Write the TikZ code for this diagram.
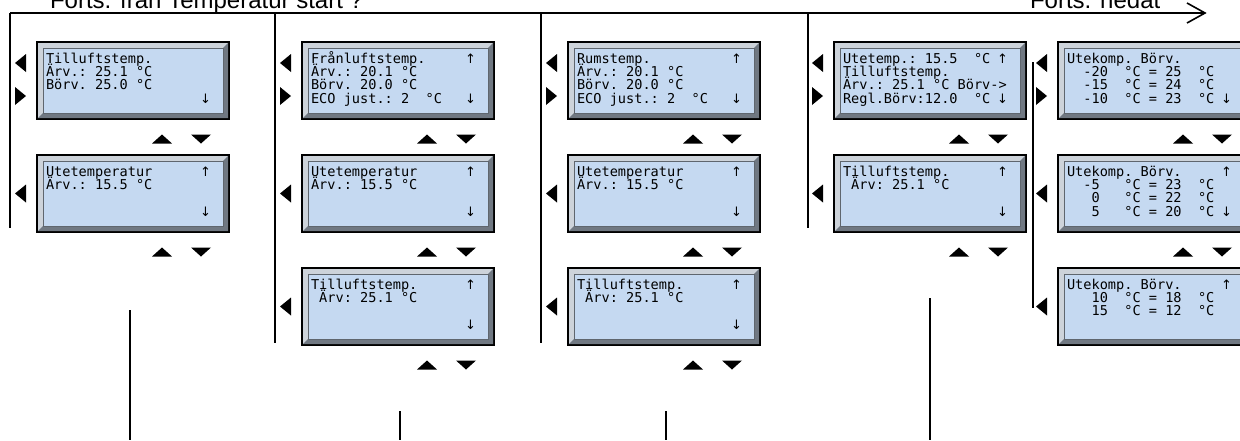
\documentclass[tikz,border=0pt]{standalone}
\usepackage{fontspec}
\setmainfont{Liberation Sans}
\newfontfamily\lcdfont{DejaVu Sans Mono}
\newfontfamily\arrfont{DejaVu Sans}
\usetikzlibrary{calc}
\definecolor{lcdblue}{RGB}{197,217,241}
\definecolor{framegray}{RGB}{156,165,175}
\definecolor{framelight}{RGB}{205,211,218}
\definecolor{framedark}{RGB}{112,120,130}
\definecolor{lcdedge}{RGB}{95,102,110}
\tikzset{
 lcdframe/.style={draw=black,line width=2pt,fill=framegray,minimum width=192pt,minimum height=77pt,anchor=north west,inner sep=0pt,outer sep=0pt},
 lcdtext/.style={anchor=base west,inner sep=0pt,outer sep=0pt,font=\lcdfont\fontsize{13.6pt}{14pt}\selectfont},
 wire/.style={line width=2pt,draw=black},
 topwire/.style={line width=1.6pt,draw=black},
 navtri/.style={fill=black},
 toptext/.style={anchor=base west,inner sep=0pt,outer sep=0pt,font=\fontsize{24pt}{28pt}\selectfont},
}
\newcommand\UA{\makebox[8.19pt]{\arrfont\fontsize{13pt}{14pt}\selectfont ↑}}
\newcommand\DA{\makebox[8.19pt]{\arrfont\fontsize{13pt}{14pt}\selectfont ↓}}
\newcommand\lcdbox[7]{%
 \node[lcdframe] (#1) at (#2,-#3) {};
 \fill[framelight,shift={(#1.north west)}] (1,-1) -- (191,-1) -- (186,-6) -- (6,-6) -- (6,-71) -- (1,-76) -- cycle;
 \fill[framedark,shift={(#1.north west)}] (191,-76) -- (1,-76) -- (6,-71) -- (186,-71) -- (186,-6) -- (191,-1) -- cycle;
 \filldraw[fill=lcdblue,draw=lcdedge,line width=0.8pt,shift={(#1.north west)}] (6,-6) rectangle (186,-71);
 \node[lcdtext] (#1-r1) at ($(#1.north west)+(9,-21)$) {#4};
 \node[lcdtext] (#1-r2) at ($(#1.north west)+(9,-34)$) {#5};
 \node[lcdtext] (#1-r3) at ($(#1.north west)+(9,-47)$) {#6};
 \node[lcdtext] (#1-r4) at ($(#1.north west)+(9,-61)$) {#7};
}
\newcommand\triL[2]{\fill[navtri,shift={(#1.north west)}] (-22,-#2) -- (-11,-#2+9) -- (-11,-#2-9) -- cycle;}
\newcommand\triR[2]{\fill[navtri,shift={(#1.north west)}] (-11,-#2) -- (-22,-#2+9) -- (-22,-#2-9) -- cycle;}
\newcommand\updown[1]{%
 \fill[navtri,shift={(#1.south east)}] (-77,-24.5) -- (-57,-24.5) -- (-67,-15.5) -- cycle;
 \fill[navtri,shift={(#1.south east)}] (-38,-15.5) -- (-18,-15.5) -- (-28,-24.5) -- cycle;}
\begin{document}
\begin{tikzpicture}[x=1pt,y=1pt]
\useasboundingbox (0,0) rectangle (1240,-440);
\clip (0,0) rectangle (1240,-440);

% header texts (cut at the top edge, as in the reference)
\node[toptext] (lt) at (50,-8) {Forts. från Temperatur start ?};
\node[toptext] (rt) at (1030,-8) {Forts. nedåt};

% top line with open arrow head
\coordinate (tl) at (10,-13);
\coordinate (tip) at (1205,-13);
\coordinate (barbU) at (1187,-3);
\coordinate (barbD) at (1187,-23);
\draw[topwire] (tl) -- (tip);
\draw[topwire,line join=miter] (barbU) -- (tip) -- (barbD);

% column lines
\coordinate (t1) at (10,-13);  \coordinate (v1) at (10,-228);
\coordinate (t2) at (275,-13); \coordinate (v2) at (275,-343);
\coordinate (t3) at (541,-13); \coordinate (v3) at (541,-343);
\coordinate (t4) at (808,-13); \coordinate (v4) at (808,-228);
\coordinate (t5) at (1033,-62); \coordinate (v5) at (1033,-308);
\draw[wire] (t1) -- (v1);
\draw[wire] (t2) -- (v2);
\draw[wire] (t3) -- (v3);
\draw[wire] (t4) -- (v4);
\draw[wire] (t5) -- (v5);

% bottom lines
\coordinate (b1t) at (130,-310); \coordinate (b1b) at (130,-440);
\coordinate (b2t) at (400,-411); \coordinate (b2b) at (400,-440);
\coordinate (b3t) at (666,-411); \coordinate (b3b) at (666,-440);
\coordinate (b4t) at (930,-298); \coordinate (b4b) at (930,-440);
\draw[wire] (b1t) -- (b1b);
\draw[wire] (b2t) -- (b2b);
\draw[wire] (b3t) -- (b3b);
\draw[wire] (b4t) -- (b4b);

% column 1
\lcdbox{a1}{37}{42}{Tilluftstemp.}{Ärv.:~25.1~°C}{Börv.~25.0~°C}{~~~~~~~~~~~~~~~~~~~\DA}
\lcdbox{a2}{37}{155}{Utetemperatur~~~~~~\UA}{Ärv.:~15.5~°C}{}{~~~~~~~~~~~~~~~~~~~\DA}
\triL{a1}{21}\triR{a1}{54}\triL{a2}{38.5}
\updown{a1}\updown{a2}

% column 2
\lcdbox{b1}{302}{42}{Frånluftstemp.~~~~~\UA}{Ärv.:~20.1~°C}{Börv.~20.0~°C}{ECO~just.:~2~~°C~~~\DA}
\lcdbox{b2}{302}{155}{Utetemperatur~~~~~~\UA}{Ärv.:~15.5~°C}{}{~~~~~~~~~~~~~~~~~~~\DA}
\lcdbox{b3}{302}{268}{Tilluftstemp.~~~~~~\UA}{~Ärv:~25.1~°C}{}{~~~~~~~~~~~~~~~~~~~\DA}
\triL{b1}{21}\triR{b1}{54}\triL{b2}{38.5}\triL{b3}{38.5}
\updown{b1}\updown{b2}\updown{b3}

% column 3
\lcdbox{c1}{568}{42}{Rumstemp.~~~~~~~~~~\UA}{Ärv.:~20.1~°C}{Börv.~20.0~°C}{ECO~just.:~2~~°C~~~\DA}
\lcdbox{c2}{568}{155}{Utetemperatur~~~~~~\UA}{Ärv.:~15.5~°C}{}{~~~~~~~~~~~~~~~~~~~\DA}
\lcdbox{c3}{568}{268}{Tilluftstemp.~~~~~~\UA}{~Ärv:~25.1~°C}{}{~~~~~~~~~~~~~~~~~~~\DA}
\triL{c1}{21}\triR{c1}{54}\triL{c2}{38.5}\triL{c3}{38.5}
\updown{c1}\updown{c2}\updown{c3}

% column 4
\lcdbox{d1}{834}{42}{Utetemp.:~15.5~~°C~\UA}{Tilluftstemp.}{Ärv.:~25.1~°C~Börv->}{Regl.Börv:12.0~~°C~\DA}
\lcdbox{d2}{834}{155}{Tilluftstemp.~~~~~~\UA}{~Ärv:~25.1~°C}{}{~~~~~~~~~~~~~~~~~~~\DA}
\triL{d1}{21}\triR{d1}{54}\triL{d2}{38.5}
\updown{d1}\updown{d2}

% column 5
\lcdbox{e1}{1058}{42}{Utekomp.~Börv.}{~~-20~~°C~=~25~~°C}{~~-15~~°C~=~24~~°C}{~~-10~~°C~=~23~~°C~\DA}
\lcdbox{e2}{1058}{155}{Utekomp.~Börv.~~~~~\UA}{~~-5~~~°C~=~23~~°C}{~~~0~~~°C~=~22~~°C}{~~~5~~~°C~=~20~~°C~\DA}
\lcdbox{e3}{1058}{268}{Utekomp.~Börv.~~~~~\UA}{~~~10~~°C~=~18~~°C}{~~~15~~°C~=~12~~°C}{}
\triL{e1}{21}\triR{e1}{54}\triL{e2}{38.5}\triL{e3}{38.5}
\updown{e1}\updown{e2}
\end{tikzpicture}
\end{document}
